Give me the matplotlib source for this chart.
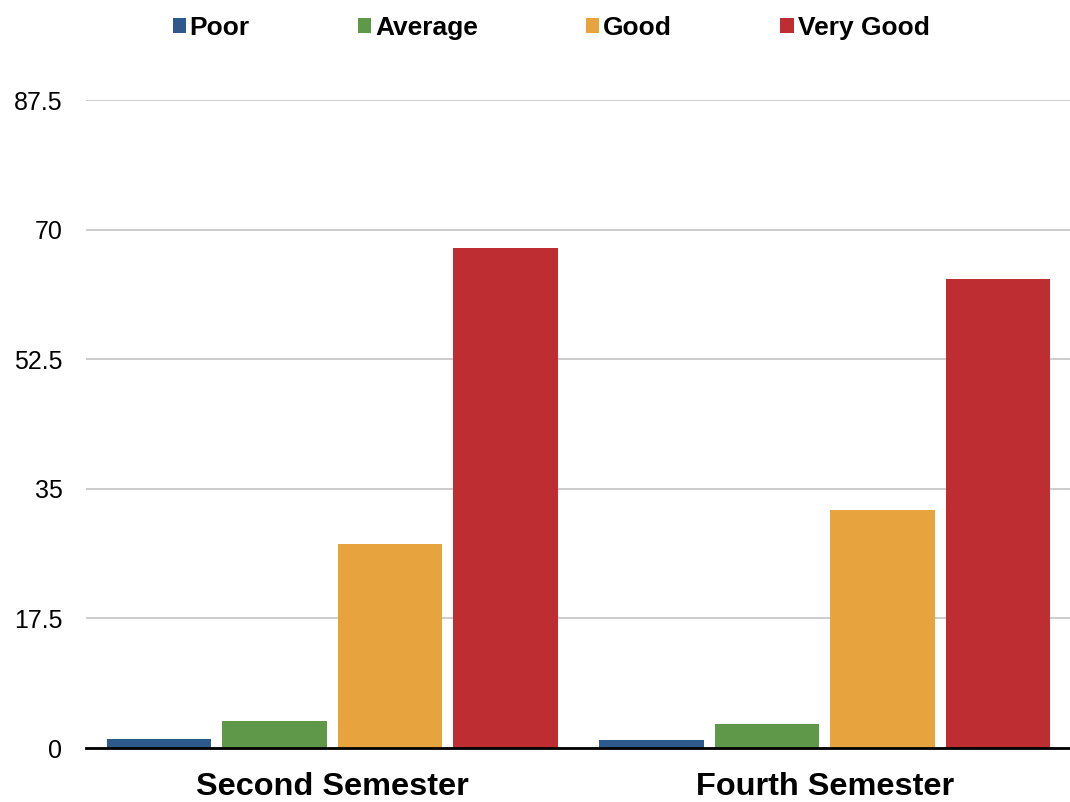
import matplotlib
matplotlib.use("Agg")
import matplotlib.pyplot as plt
import numpy as np

plt.rcParams['font.family'] = ['Liberation Sans', 'DejaVu Sans']

categories = ["Second Semester", "Fourth Semester"]
series_names = ["Poor", "Average", "Good", "Very Good"]
poor = [1.2, 1.1]
average = [3.6, 3.3]
good = [27.6, 32.2]
very_good = [67.5, 63.3]
yticks = [0, 17.5, 35, 52.5, 70, 87.5]
ytick_labels = ["0", "17.5", "35", "52.5", "70", "87.5"]

colors = ["#2E598C", "#5F9848", "#E7A33E", "#BD2D31"]
values = [poor, average, good, very_good]

fig = plt.figure(figsize=(10.70, 8.02), dpi=100)
ax = fig.add_axes([86/1070, 54/802, 985/1070, 648/802])

x = np.arange(len(categories))
pitch = 0.2345
width = 0.213
handles = []
for i, (name, vals, c) in enumerate(zip(series_names, values, colors)):
    b = ax.bar(x + (i - 1.5) * pitch, vals, width, color=c, label=name, zorder=3)
    handles.append(b)

ax.set_xlim(-0.5, 1.5)
ax.set_ylim(0, 87.5)
ax.set_yticks(yticks)
ax.set_yticklabels(ytick_labels, fontsize=18)
ax.set_xticks(x)
ax.set_xticklabels(categories, fontsize=23.4, fontweight='bold')
ax.tick_params(axis='y', length=0, pad=17)
ax.tick_params(axis='x', length=0, pad=17)
ax.grid(axis='y', color='#C4C4C4', linewidth=1.2, zorder=0)
for s in ['left', 'right', 'top']:
    ax.spines[s].set_visible(False)
ax.spines['bottom'].set_color('black')
ax.spines['bottom'].set_linewidth(2)
ax.spines['bottom'].set_zorder(4)

leg = fig.legend(handles=handles, labels=series_names, loc='center',
                 bbox_to_anchor=(551/1070, 1 - 28/802), ncol=4, frameon=False,
                 prop={'weight': 'bold', 'size': 19},
                 handlelength=0.5, handleheight=0.5, handletextpad=0.15,
                 columnspacing=4.1, borderpad=0)

fig.savefig("out.png", dpi=100)
